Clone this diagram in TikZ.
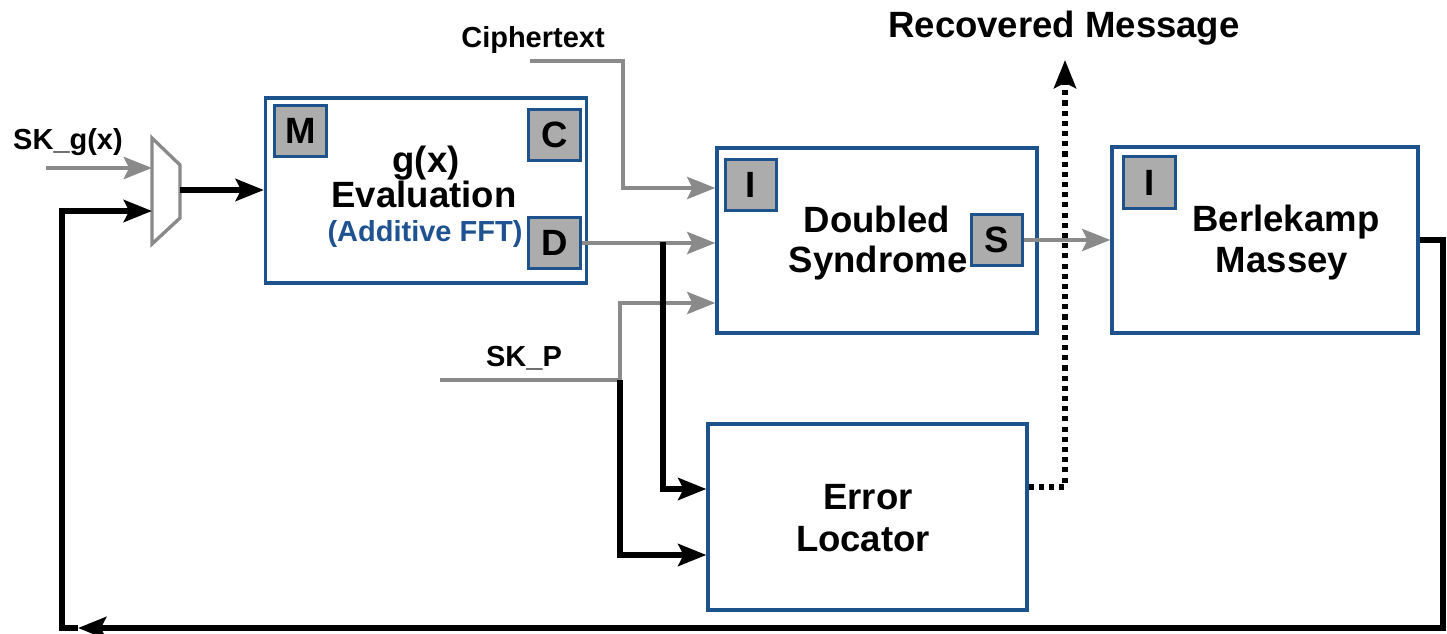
\documentclass[tikz,border=0pt]{standalone}
\usepackage{fontspec}
\setmainfont{Liberation Sans}
\usetikzlibrary{arrows.meta,calc}
\definecolor{edgeblue}{RGB}{30,82,140}
\definecolor{textblue}{RGB}{31,82,145}
\definecolor{portgray}{RGB}{172,172,172}
\definecolor{wiregray}{RGB}{138,138,138}
\newcommand\blkfont{\fontsize{20.8}{22}\selectfont\bfseries}
\newcommand\lblfont{\fontsize{16.5}{18}\selectfont\bfseries}
\tikzset{
  block/.style={draw=edgeblue, line width=1.9pt, fill=white, inner sep=0pt},
  port/.style={draw=edgeblue, line width=1.9pt, fill=portgray, minimum size=1.03cm,
               inner sep=0pt, font=\blkfont},
  btext/.style={anchor=base, inner sep=0pt, font=\blkfont},
  ltext/.style={anchor=base, inner sep=0pt, font=\lblfont},
  tip/.style={-{Stealth[length=16pt,width=12.5pt,inset=3pt]}},
  bwire/.style={line width=3.1pt, black},
  gwire/.style={line width=2.6pt, wiregray},
  barrow/.style={bwire, tip},
  garrow/.style={gwire, tip},
  dotwire/.style={line width=3.1pt, black, dash pattern=on 2.9pt off 2.9pt, tip},
}
\begin{document}
\begin{tikzpicture}[x=0.02cm, y=-0.02cm]
  \useasboundingbox (0,0) rectangle (1447,634);

  % ---- blocks ----
  \node[block, minimum width=6.42cm, minimum height=3.70cm] (eval) at (426,190.5) {};
  \node[block, minimum width=6.40cm, minimum height=3.70cm] (dsyn) at (877,240.5) {};
  \node[block, minimum width=6.12cm, minimum height=3.72cm] (bm)   at (1265,240) {};
  \node[block, minimum width=6.38cm, minimum height=3.72cm] (eloc) at (867.5,517) {};

  % ---- ports ----
  \node[port] (pm) at (300.5,131) {M};
  \node[port] (pc) at (554.5,135) {C};
  \node[port] (pd) at (554.5,243) {D};
  \node[port] (pi1) at (751,185) {I};
  \node[port] (ps) at (997,240) {S};
  \node[port] (pi2) at (1149.5,182.5) {I};

  % ---- block texts ----
  \node[btext] (t1) at (426,173) {g(x)};
  \node[btext] (t2) at (424,208) {Evaluation};
  \node[ltext, text=textblue] (t3) at (425,242) {(Additive FFT)};
  \node[btext] (t4) at (877,233) {Doubled};
  \node[btext] (t5) at (878,273) {Syndrome};
  \node[btext] (t6) at (1286,232) {Berlekamp};
  \node[btext] (t7) at (1282,273) {Massey};
  \node[btext] (t8) at (868,510) {Error};
  \node[btext] (t9) at (863,552) {Locator};

  % ---- outside labels ----
  \node[ltext] (lskg) at (68,150) {SK\_g(x)};
  \node[ltext] (lct) at (533,48) {Ciphertext};
  \node[ltext] (lskp) at (524,367) {SK\_P};
  \node[btext] (lrm) at (1064,38) {Recovered Message};

  % ---- multiplexer ----
  \draw[wiregray, line width=1.9pt, fill=white]
    (152,138) -- (180,165) -- (180,218) -- (152,244) -- cycle;
  \coordinate (muxa) at (152,168);
  \coordinate (muxb) at (152,211);
  \coordinate (muxo) at (180,190);

  % ---- free ends and bends ----
  \coordinate (skg) at (46,168);
  \coordinate (ct) at (530,61);
  \coordinate (ctbend) at (623,188);
  \coordinate (skp) at (440,380);
  \coordinate (skpj) at (620,380);
  \coordinate (skpup) at (620,303);
  \coordinate (dj) at (663,242);
  \coordinate (ela) at (0,489);
  \coordinate (elb) at (0,555);
  \coordinate (rmtip) at (1065,60);
  \coordinate (eldot) at (0,487);
  \coordinate (fbc) at (1443,628);
  \coordinate (fbt) at (78,628);
  \coordinate (fbl) at (62,628);

  % ---- recovered message (dotted) ----
  \draw[dotwire] (eloc.east |- eldot) -| (rmtip);

  % ---- gray data wires ----
  \draw[garrow] (skg) -- (muxa);
  \draw[garrow] (ct) -| (ctbend) -- (ctbend -| dsyn.west);
  \draw[garrow] (pd.east) -- (pd.east -| dsyn.west);
  \draw[garrow] (skp) -- (skpj) |- (skpup -| dsyn.west);
  \draw[garrow] (ps.east) -- (ps.east -| bm.west);

  % ---- black control wires ----
  \draw[barrow] (muxo) -- (muxo -| eval.west);
  \draw[barrow] (dj) |- (ela -| eloc.west);
  \draw[barrow] (skpj) |- (elb -| eloc.west);
  \draw[barrow] (bm.east) -| (fbc) -- (fbt);
  \draw[barrow] (fbt) -- (fbl) |- (muxb);
\end{tikzpicture}
\end{document}
